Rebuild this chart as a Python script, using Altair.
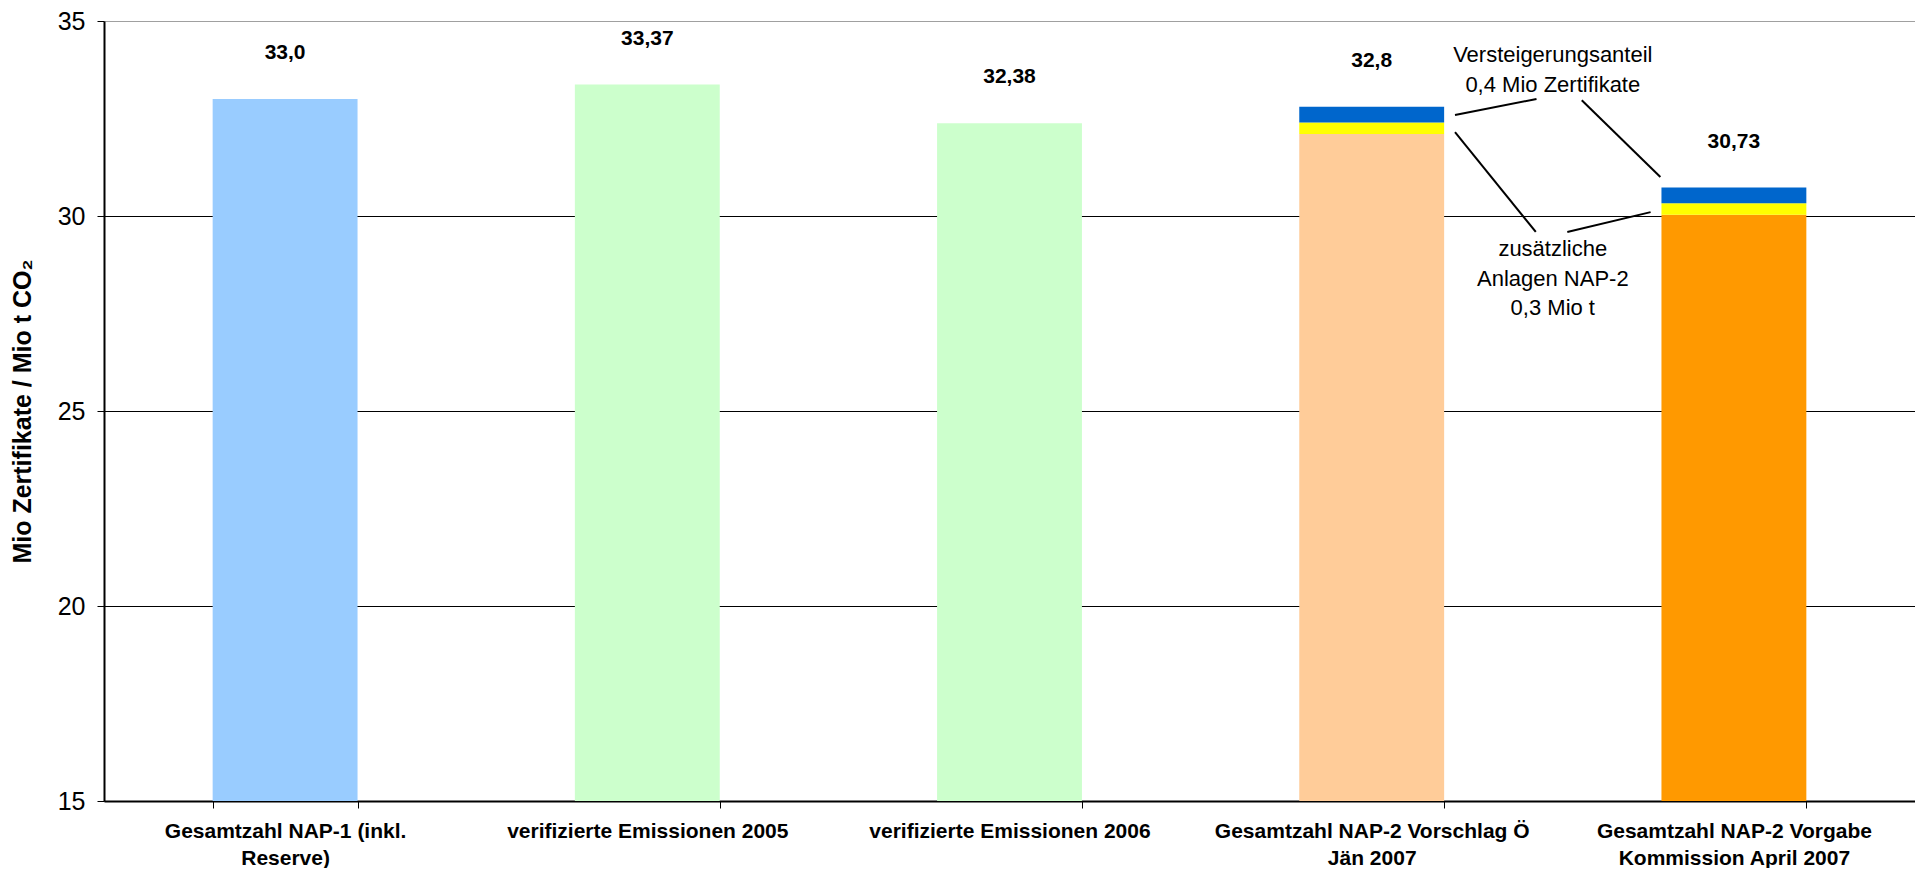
import altair as alt
import pandas as pd

# ---- data ----
categories = [
    ["Gesamtzahl NAP-1 (inkl.", "Reserve)"],
    ["verifizierte Emissionen 2005"],
    ["verifizierte Emissionen 2006"],
    ["Gesamtzahl NAP-2 Vorschlag Ö", "Jän 2007"],
    ["Gesamtzahl NAP-2 Vorgabe", "Kommission April 2007"],
]
totals = [33.0, 33.37, 32.38, 32.8, 30.73]
additional = [0, 0, 0, 0.3, 0.3]   # zusätzliche Anlagen NAP-2
auction = [0, 0, 0, 0.4, 0.4]      # Versteigerungsanteil
base_colors = ["#99CCFF", "#CCFFCC", "#CCFFCC", "#FFCC99", "#FF9900"]
add_color = "#FFFF00"
auction_color = "#0066CC"

y_ticks = [15, 20, 25, 30, 35]

# annotation texts (x in category units 0..5, y in data units)
note_x = [4.0, 4.0, 4.0, 4.0, 4.0]
note_y = [34.13, 33.36, 29.15, 28.38, 27.64]
note_text = ["Versteigerungsanteil", "0,4 Mio Zertifikate",
             "zusätzliche", "Anlagen NAP-2", "0,3 Mio t"]
# leader lines
line_x1 = [3.73, 4.08, 3.73, 4.04]
line_y1 = [32.59, 32.97, 32.15, 29.59]
line_x2 = [3.955, 4.297, 3.953, 4.27]
line_y2 = [33.0, 31.0, 29.59, 30.10]

# ---- tables ----
cat_names = ["\n".join(c) for c in categories]
rows = []
for i, name in enumerate(cat_names):
    base = round(totals[i] - additional[i] - auction[i], 2)
    rows.append({"cat": name, "value": base, "color": base_colors[i], "ord": 0})
    if additional[i] > 0:
        rows.append({"cat": name, "value": additional[i], "color": add_color, "ord": 1})
    if auction[i] > 0:
        rows.append({"cat": name, "value": auction[i], "color": auction_color, "ord": 2})
bars_df = pd.DataFrame(rows)

labels_df = pd.DataFrame({
    "cat": cat_names,
    "total": totals,
    "label": [str(v).replace(".", ",") for v in totals],
})
notes_df = pd.DataFrame({"x": note_x, "y": note_y, "t": note_text})
lines_df = pd.DataFrame({"x": line_x1, "y": line_y1, "x2": line_x2, "y2": line_y2})

FONT = "Liberation Sans"
band_scale = alt.Scale(paddingInner=0.6, paddingOuter=0.3)

x_axis = alt.Axis(
    title=None, labelAngle=0, labelFontSize=21, labelFontWeight="bold",
    labelFont=FONT, labelColor="#000000",
    labelExpr="split(datum.label, '\\n')", labelLineHeight=27,
    tickBand="extent", tickSize=7, tickColor="#000000",
    domainColor="#000000", domainWidth=2, labelPadding=12, labelLimit=600,
    grid=False,
)
y_scale = alt.Scale(domain=[15, 35], zero=False, nice=False)

bars = alt.Chart(bars_df).mark_bar(clip=True).encode(
    x=alt.X("cat:N", sort=cat_names, scale=band_scale, axis=x_axis),
    y=alt.Y(
        "value:Q", stack="zero", scale=y_scale,
        axis=alt.Axis(
            values=y_ticks, title="Mio Zertifikate / Mio t CO₂",
            titleFontSize=25, titleFontWeight="bold", titleFont=FONT,
            titleColor="#000000", titleX=-82, titleY=390, titleAngle=-90,
            titleBaseline="middle", titleAlign="center",
            labelFontSize=25, labelFont=FONT, labelColor="#000000",
            labelPadding=12, tickSize=7, tickColor="#000000",
            domainColor="#000000", domainWidth=2,
            grid=True, gridWidth=1,
            gridColor={"condition": {"test": "datum.value >= 35", "value": "#a0a0a0"},
                       "value": "#000000"},
        ),
    ),
    color=alt.Color("color:N", scale=None),
    order=alt.Order("ord:Q"),
)

value_labels = alt.Chart(labels_df).mark_text(
    dy=-46, fontSize=21, fontWeight="bold", font=FONT, color="#000000",
    baseline="middle",
).encode(
    x=alt.X("cat:N", sort=cat_names, scale=band_scale, axis=x_axis),
    y=alt.Y("total:Q", scale=y_scale),
    text="label:N",
)

base_layer = alt.layer(bars, value_labels)

ann_x = alt.Scale(domain=[0, 5], nice=False, zero=False)
leaders = alt.Chart(lines_df).mark_rule(color="#000000", strokeWidth=2).encode(
    x=alt.X("x:Q", scale=ann_x, axis=None),
    x2="x2:Q",
    y=alt.Y("y:Q", scale=y_scale),
    y2="y2:Q",
)
notes = alt.Chart(notes_df).mark_text(
    fontSize=22, font=FONT, color="#000000", baseline="middle", align="center",
).encode(
    x=alt.X("x:Q", scale=ann_x, axis=None),
    y=alt.Y("y:Q", scale=y_scale),
    text="t:N",
)

chart = alt.layer(base_layer, leaders, notes).resolve_scale(
    x="independent"
).properties(
    width=1811, height=780,
    autosize=alt.AutoSizeParams(type="none"),
    padding={"left": 96, "top": 13, "right": 0, "bottom": 67},
).configure_view(
    stroke="#a0a0a0", strokeWidth=1
).configure(background="#ffffff")

chart.save("out.html", embed_options={"renderer": "svg", "actions": False})
